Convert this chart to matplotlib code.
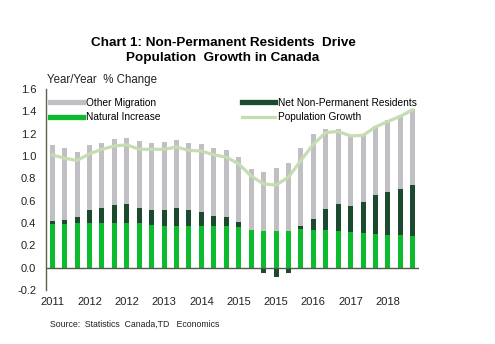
import numpy as np
import matplotlib
matplotlib.use("Agg")
import matplotlib.pyplot as plt
from matplotlib.lines import Line2D

plt.rcParams['font.family'] = ['Liberation Sans', 'DejaVu Sans']

# quarterly y/y contributions, 2011Q1 .. 2018Q2
quarters = [f"{y}Q{q}" for y in range(2011, 2019) for q in range(1, 5)][:30]
tick_labels = ["2011", "2012", "2012", "2013", "2014", "2015", "2015", "2016", "2017", "2018"]

natural_increase = [0.39, 0.39, 0.40, 0.40, 0.40, 0.40, 0.40, 0.40, 0.38, 0.37,
                    0.37, 0.37, 0.37, 0.37, 0.37, 0.36, 0.335, 0.33, 0.33, 0.33,
                    0.345, 0.335, 0.335, 0.325, 0.315, 0.31, 0.30, 0.295, 0.295, 0.285]
net_npr = [0.03, 0.04, 0.055, 0.12, 0.135, 0.16, 0.17, 0.13, 0.14, 0.145,
           0.16, 0.15, 0.125, 0.095, 0.08, 0.045, -0.012, -0.048, -0.083, -0.048,
           0.025, 0.105, 0.19, 0.245, 0.24, 0.28, 0.355, 0.38, 0.41, 0.455]
other_migration = [0.68, 0.64, 0.58, 0.58, 0.585, 0.595, 0.59, 0.60, 0.60, 0.61,
                   0.61, 0.60, 0.61, 0.61, 0.60, 0.59, 0.55, 0.53, 0.56, 0.61,
                   0.70, 0.755, 0.72, 0.67, 0.625, 0.605, 0.615, 0.645, 0.665, 0.68]
population_growth = [1.01, 0.98, 0.96, 1.02, 1.06, 1.09, 1.10, 1.06, 1.06, 1.06,
                     1.08, 1.05, 1.045, 1.01, 0.99, 0.93, 0.82, 0.75, 0.74, 0.81,
                     0.96, 1.105, 1.21, 1.22, 1.18, 1.185, 1.26, 1.31, 1.355, 1.415]

c_other = "#C0C0C4"
c_npr = "#1B4A2E"
c_nat = "#0CBB2E"
c_line = "#C6DDB2"

x = np.arange(len(quarters))
ni = np.array(natural_increase)
npr = np.array(net_npr)
om = np.array(other_migration)
pos_npr = np.clip(npr, 0, None)
neg_npr = np.clip(npr, None, 0)

fig = plt.figure(figsize=(4.95, 3.44), dpi=100)
ax = fig.add_axes([46 / 495, 1 - 290 / 344, 373 / 495, 201 / 344])

w = 0.4
ax.bar(x, ni, w, color=c_nat, zorder=2)
ax.bar(x, pos_npr, w, bottom=ni, color=c_npr, zorder=2)
ax.bar(x, neg_npr, w, color=c_npr, zorder=2)
ax.bar(x, om, w, bottom=ni + pos_npr, color=c_other, zorder=2)
ax.plot(x, population_growth, color=c_line, lw=2.3, zorder=3,
        solid_capstyle="round", solid_joinstyle="round")

ax.axhline(0, color="#555548", lw=1.0, zorder=4)

ax.set_xlim(-0.5, 29.5)
ax.set_ylim(-0.2, 1.6)
ax.set_yticks(np.arange(-0.2, 1.61, 0.2))
ax.set_yticklabels([f"{v:.1f}" for v in np.arange(-0.2, 1.61, 0.2)])
ax.set_xticks(x[::3])
ax.set_xticklabels(tick_labels)
ax.tick_params(axis="y", length=0, pad=7, labelsize=8, colors="#222222")
ax.tick_params(axis="x", length=0, pad=5, labelsize=8, colors="#222222")
for s in ["top", "right", "bottom"]:
    ax.spines[s].set_visible(False)
ax.spines["left"].set_color("#606050")
ax.spines["left"].set_linewidth(1.0)

leg_kw = dict(frameon=False, fontsize=7.3, handlelength=3.25, handletextpad=0.3,
              labelspacing=0.42, borderpad=0, borderaxespad=0, loc="upper left",
              bbox_transform=fig.transFigure)
h1 = [Line2D([], [], color=c_other, lw=3.8), Line2D([], [], color=c_nat, lw=3.8)]
leg1 = ax.legend(h1, ["Other Migration", "Natural Increase"],
                 bbox_to_anchor=(50 / 495, 1 - 98 / 344), **leg_kw)
ax.add_artist(leg1)
h2 = [Line2D([], [], color=c_npr, lw=3.8), Line2D([], [], color=c_line, lw=2.3)]
ax.legend(h2, ["Net Non-Permanent Residents", "Population Growth"],
          bbox_to_anchor=(242 / 495, 1 - 98 / 344), **leg_kw)

fig.text(223 / 495, 1 - 46 / 344, "Chart 1: Non-Permanent Residents  Drive",
         ha="center", va="baseline", fontsize=9.7, fontweight="bold")
fig.text(223 / 495, 1 - 61 / 344, "Population  Growth in Canada",
         ha="center", va="baseline", fontsize=9.7, fontweight="bold")
fig.text(47 / 495, 1 - 83 / 344, "Year/Year  % Change", ha="left", va="baseline",
         fontsize=8.3, color="#222222")
fig.text(50 / 495, 1 - 327 / 344, "Source:  Statistics  Canada,TD   Economics",
         ha="left", va="baseline", fontsize=6.3, color="#222222")

fig.savefig("out.png", dpi=100)
